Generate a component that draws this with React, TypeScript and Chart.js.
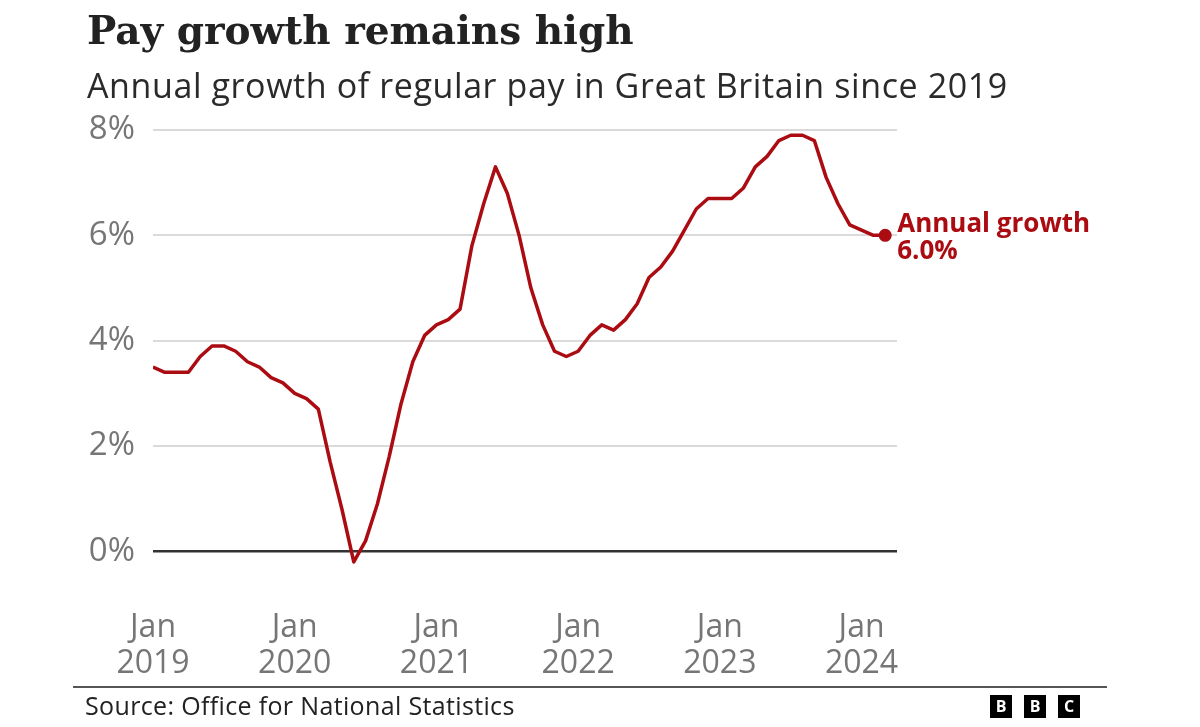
import React, { useEffect, useRef } from 'react';
import { Chart, registerables } from 'chart.js';

Chart.register(...registerables);

// ---- Text ----
const TITLE = 'Pay growth remains high';
const SUBTITLE = 'Annual growth of regular pay in Great Britain since 2019';
const SOURCE = 'Source: Office for National Statistics';
const SERIES_LABEL = 'Annual growth';

// ---- Axes ----
const X_TICK_MONTHS = [0, 12, 24, 36, 48, 60];
const X_TICK_LABELS = [
  ['Jan', '2019'],
  ['Jan', '2020'],
  ['Jan', '2021'],
  ['Jan', '2022'],
  ['Jan', '2023'],
  ['Jan', '2024'],
];
const X_MIN = 0;
const X_MAX = 63;
const Y_TICKS = [0, 2, 4, 6, 8];
const Y_MIN = -0.6;
const Y_MAX = 8;

// ---- Data: annual growth of regular pay (%), monthly from Jan 2019 to Mar 2024 ----
const PAY_GROWTH = [
  3.5, 3.4, 3.4, 3.4, 3.7, 3.9, 3.9, 3.8, 3.6, 3.5, 3.3, 3.2, // 2019
  3.0, 2.9, 2.7, 1.7, 0.8, -0.2, 0.2, 0.9, 1.8, 2.8, 3.6, 4.1, // 2020
  4.3, 4.4, 4.6, 5.8, 6.6, 7.3, 6.8, 6.0, 5.0, 4.3, 3.8, 3.7, // 2021
  3.8, 4.1, 4.3, 4.2, 4.4, 4.7, 5.2, 5.4, 5.7, 6.1, 6.5, 6.7, // 2022
  6.7, 6.7, 6.9, 7.3, 7.5, 7.8, 7.9, 7.9, 7.8, 7.1, 6.6, 6.2, // 2023
  6.1, 6.0, 6.0, // 2024
];

const RED = '#aa0c12';
const GREY_TEXT = '#767676';
const SANS = '"Open Sans", "Noto Sans", sans-serif';

export default function App() {
  const ref = useRef<HTMLCanvasElement>(null);

  useEffect(() => {
    if (!ref.current) return;
    const endLabel = {
      id: 'endLabel',
      afterDatasetsDraw(chart: any) {
        const meta = chart.getDatasetMeta(0);
        const pt = meta.data[meta.data.length - 1];
        if (!pt) return;
        const last = PAY_GROWTH[PAY_GROWTH.length - 1];
        const ctx = chart.ctx;
        ctx.save();
        ctx.fillStyle = RED;
        ctx.beginPath();
        ctx.arc(pt.x, pt.y, 6.5, 0, Math.PI * 2);
        ctx.fill();
        ctx.font = `bold 26px ${SANS}`;
        ctx.textAlign = 'left';
        ctx.textBaseline = 'alphabetic';
        ctx.fillText(SERIES_LABEL, pt.x + 12, pt.y - 3);
        ctx.fillText(last.toFixed(1) + '%', pt.x + 12, pt.y + 24);
        ctx.restore();
      },
    };

    const chart = new Chart(ref.current, {
      type: 'line',
      data: {
        datasets: [
          {
            label: SERIES_LABEL,
            data: PAY_GROWTH.map((v, i) => ({ x: i, y: v })),
            borderColor: RED,
            borderWidth: 3.5,
            pointRadius: 0,
            tension: 0,
            fill: false,
            borderJoinStyle: 'round',
          },
        ],
      },
      plugins: [endLabel],
      options: {
        animation: false,
        responsive: false,
        devicePixelRatio: 1,
        layout: { padding: { top: 130, right: 303, bottom: 0, left: 0 } },
        plugins: {
          legend: { display: false },
          tooltip: { enabled: false },
          title: { display: false },
        },
        scales: {
          x: {
            type: 'linear',
            min: X_MIN,
            max: X_MAX,
            grid: { display: false, drawTicks: false },
            border: { display: false },
            afterBuildTicks: (scale: any) => {
              scale.ticks = X_TICK_MONTHS.map((v) => ({ value: v }));
            },
            afterFit: (scale: any) => {
              scale.height = 144;
            },
            ticks: {
              autoSkip: false,
              maxRotation: 0,
              minRotation: 0,
              padding: 27,
              color: GREY_TEXT,
              font: { family: SANS, size: 32, lineHeight: 1.13 },
              callback: (value: any) => {
                const idx = X_TICK_MONTHS.indexOf(Number(value));
                return idx >= 0 ? X_TICK_LABELS[idx] : '';
              },
            },
          },
          y: {
            type: 'linear',
            min: Y_MIN,
            max: Y_MAX,
            afterBuildTicks: (scale: any) => {
              scale.ticks = Y_TICKS.map((v) => ({ value: v }));
            },
            afterFit: (scale: any) => {
              scale.width = 153;
            },
            border: { display: false },
            grid: {
              drawTicks: false,
              color: (c: any) => (c.tick && c.tick.value === 0 ? '#333333' : '#dadada'),
              lineWidth: (c: any) => (c.tick && c.tick.value === 0 ? 2.5 : 2),
            },
            ticks: {
              padding: 18,
              color: GREY_TEXT,
              font: { family: SANS, size: 33 },
              callback: (value: any) => `${value}%`,
            },
          },
        },
      },
    } as any);
    return () => chart.destroy();
  }, []);

  return (
    <div
      style={{
        position: 'absolute',
        left: 0,
        top: 0,
        width: 1200,
        height: 727,
        background: '#ffffff',
        overflow: 'hidden',
      }}
    >
      <canvas
        ref={ref}
        width={1200}
        height={727}
        style={{ position: 'absolute', left: 0, top: 0, width: 1200, height: 727 }}
      />
      <div
        style={{
          position: 'absolute',
          left: 87,
          top: 11,
          fontFamily: '"DejaVu Serif", serif',
          fontWeight: 'bold',
          fontSize: 39,
          lineHeight: '39px',
          color: '#222222',
          whiteSpace: 'nowrap',
        }}
      >
        {TITLE}
      </div>
      <div
        style={{
          position: 'absolute',
          left: 87,
          top: 68,
          fontFamily: SANS,
          fontSize: 34,
          letterSpacing: 0.6,
          lineHeight: '34px',
          color: '#2a2a2a',
          whiteSpace: 'nowrap',
        }}
      >
        {SUBTITLE}
      </div>
      <div
        style={{
          position: 'absolute',
          left: 73,
          top: 686,
          width: 1034,
          height: 2,
          background: '#555555',
        }}
      />
      <div
        style={{
          position: 'absolute',
          left: 85,
          top: 693,
          fontFamily: SANS,
          fontSize: 25,
          letterSpacing: 0.35,
          lineHeight: '25px',
          color: '#222222',
          whiteSpace: 'nowrap',
        }}
      >
        {SOURCE}
      </div>
      <div style={{ position: 'absolute', left: 990, top: 695, display: 'flex', gap: 12 }}>
        {['B', 'B', 'C'].map((ch, i) => (
          <div
            key={i}
            style={{
              width: 22,
              height: 23,
              background: '#000000',
              color: '#ffffff',
              fontFamily: SANS,
              fontWeight: 'bold',
              fontSize: 16,
              lineHeight: '23px',
              textAlign: 'center',
            }}
          >
            {ch}
          </div>
        ))}
      </div>
    </div>
  );
}
